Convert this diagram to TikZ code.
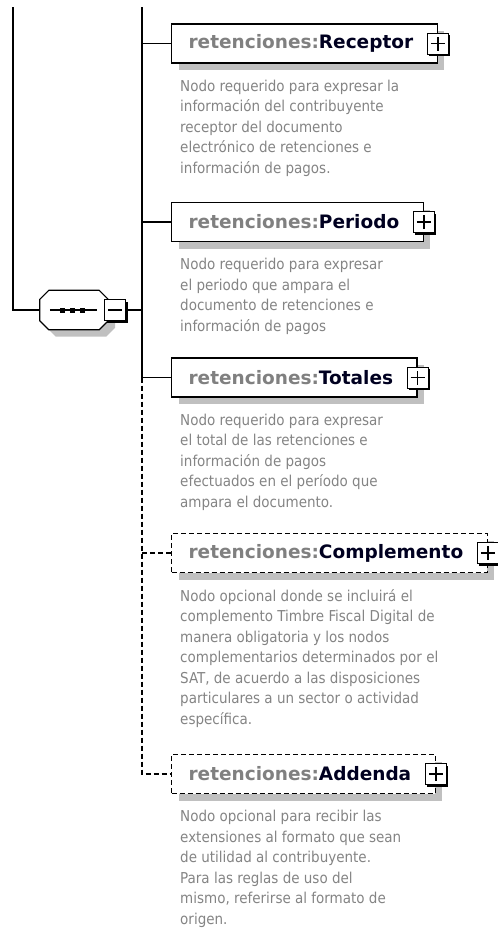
\documentclass[tikz,border=0pt]{standalone}
\usepackage{fontspec}
\setmainfont{DejaVu Sans}
\newfontfamily\descfont{DejaVu Sans Condensed}
\usepackage{tikz}
\usetikzlibrary{positioning, shadows}

\definecolor{prefixgray}{RGB}{128,128,128}
\definecolor{namecol}{RGB}{0,0,32}
\definecolor{desccol}{RGB}{132,132,132}
\definecolor{shadowgray}{RGB}{192,192,192}

\newcommand{\retname}[1]{{\color{prefixgray}retenciones:}{\color{namecol}#1}\hspace*{7pt}}

\tikzset{
  link/.style={line width=1.2pt},
  optlink/.style={line width=1.2pt, dash pattern=on 5pt off 3pt},
  greyshadow/.style={drop shadow={shadow xshift=7pt, shadow yshift=-7pt, fill=shadowgray, opacity=1}},
  elem/.style={draw, fill=white, line width=1.2pt, minimum height=39pt, inner xsep=17pt, anchor=west,
    font=\bfseries\fontsize{18.5}{22}\selectfont, greyshadow},
  optelem/.style={elem, dash pattern=on 5pt off 3pt},
  plusbox/.style={draw, fill=white, line width=1pt, minimum size=21pt, inner sep=0pt,
    drop shadow={shadow xshift=2pt, shadow yshift=-2pt, fill=black, opacity=1},
    path picture={
      \draw[line width=1.4pt] ([xshift=-7pt]path picture bounding box.center) -- ([xshift=7pt]path picture bounding box.center);
      \draw[line width=1.4pt] ([yshift=-7pt]path picture bounding box.center) -- ([yshift=7pt]path picture bounding box.center);}},
  minusbox/.style={draw, fill=white, line width=1pt, minimum size=21pt, inner sep=0pt,
    drop shadow={shadow xshift=2pt, shadow yshift=-2pt, fill=black, opacity=1},
    path picture={
      \draw[line width=1.2pt] ([xshift=-7pt]path picture bounding box.center) -- ([xshift=7pt]path picture bounding box.center);}},
  seqbox/.style={minimum width=68pt, minimum height=39pt, inner sep=0pt},
  desc/.style={font=\descfont\fontsize{15}{20.5}\selectfont, text=desccol, align=left, inner sep=0pt}
}

\begin{document}
\begin{tikzpicture}[x=1pt, y=-1pt]
  \useasboundingbox (0,0) rectangle (498,930);

  % secuencia
  \coordinate (roottop) at (13,7);
  \coordinate (seqtop) at (142,7);
  \node[seqbox] (seq) at (74,310) {};
  \draw[link, fill=white, greyshadow]
    ([xshift=9pt]seq.north west) -- ([xshift=-9pt]seq.north east) -- ([yshift=-9pt]seq.north east)
    -- ([yshift=9pt]seq.south east) -- ([xshift=-9pt]seq.south east) -- ([xshift=9pt]seq.south west)
    -- ([yshift=9pt]seq.south west) -- ([yshift=-9pt]seq.north west) -- cycle;
  \draw[link] ([xshift=10pt]seq.west) -- ([xshift=57pt]seq.west);
  \foreach \dx in {23,33,43}
    \fill ([xshift=\dx pt]seq.west) ++(-2.5,-2.5) rectangle ++(5,5);
  \node[minusbox] (seqmin) at (115,310) {};
  \draw[link] (roottop) |- (seq.west);
  \draw[link] (seqmin.east) -- (seqmin.east -| seqtop);

  % elementos
  \node[elem] (receptor) at (171,43.5) {\retname{Receptor}};
  \node[elem] (periodo) at (171,222) {\retname{Periodo}};
  \node[elem] (totales) at (171,377.5) {\retname{Totales}};
  \node[optelem] (complemento) at (171,553) {\retname{Complemento}};
  \node[optelem] (addenda) at (171,774) {\retname{Addenda}};

  \foreach \n in {receptor,periodo,totales,complemento,addenda}
    \node[plusbox] (\n plus) at (\n.east) {};

  % conectores
  \draw[link] (seqtop) |- (totales.west);
  \draw[link] (seqtop |- receptor.west) -- (receptor.west);
  \draw[link] (seqtop |- periodo.west) -- (periodo.west);
  \draw[optlink] (seqtop |- totales.west) |- (addenda.west);
  \draw[optlink] (seqtop |- complemento.west) -- (complemento.west);

  % documentacion
  \node[desc, below right=16pt and 9pt of receptor.south west] (receptordesc)
    {Nodo requerido para expresar la\\información del contribuyente\\receptor del documento\\electrónico de retenciones e\\información de pagos.};
  \node[desc, below right=16pt and 9pt of periodo.south west] (periododesc)
    {Nodo requerido para expresar\\el periodo que ampara el\\documento de retenciones e\\información de pagos};
  \node[desc, below right=16pt and 9pt of totales.south west] (totalesdesc)
    {Nodo requerido para expresar\\el total de las retenciones e\\información de pagos\\efectuados en el período que\\ampara el documento.};
  \node[desc, below right=16pt and 9pt of complemento.south west] (complementodesc)
    {Nodo opcional donde se incluirá el\\complemento Timbre Fiscal Digital de\\manera obligatoria y los nodos\\complementarios determinados por el\\SAT, de acuerdo a las disposiciones\\particulares a un sector o actividad\\específica.};
  \node[desc, below right=16pt and 9pt of addenda.south west] (addendadesc)
    {Nodo opcional para recibir las\\extensiones al formato que sean\\de utilidad al contribuyente.\\Para las reglas de uso del\\mismo, referirse al formato de\\origen.};
\end{tikzpicture}
\end{document}
